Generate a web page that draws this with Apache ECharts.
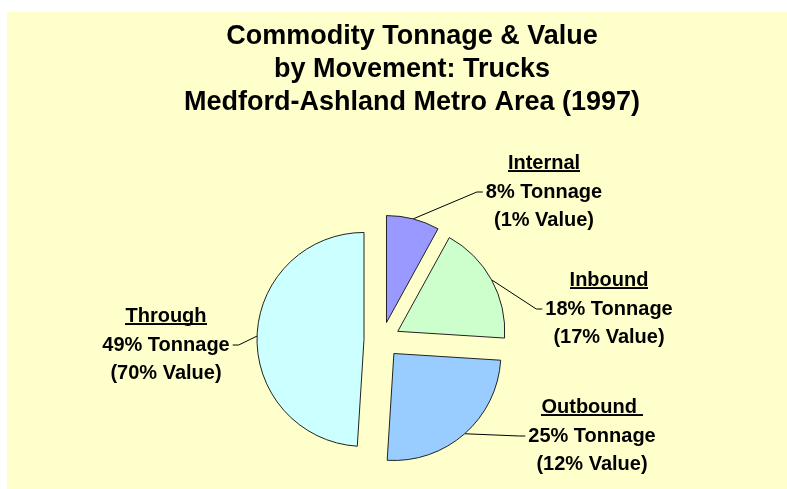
<!DOCTYPE html>
<html>
<head>
<meta charset="utf-8">
<script src="https://cdn.jsdelivr.net/npm/echarts@6/dist/echarts.min.js"></script>
<style>
  html, body { margin: 0; padding: 0; background: #ffffff; }
  #chart { width: 787px; height: 489px; }
</style>
</head>
<body>
<div id="chart"></div>
<script>
// Truck freight by movement type, Medford-Ashland metro area, 1997
const movements = ['Internal', 'Inbound', 'Outbound ', 'Through'];
const tonnageShare = [8, 18, 25, 49];   // % of tonnage (slice sizes)
const valueShare = [1, 17, 12, 70];     // % of value (shown in labels)
const sliceColors = ['#9999FF', '#CCFFCC', '#99CCFF', '#CCFFFF'];

// Pie geometry
const PIE_CENTER = [382, 340];
const PIE_RADIUS = 107;
const EXPLODE = 18;

// Where each three-line label block is centred, and on which side its leader line attaches
const labelAnchors = [
  [544, 192, 'left'],
  [609, 309, 'left'],
  [592, 436, 'left'],
  [166, 345, 'right']
];

const FONT = 'Liberation Sans';
const LABEL_SIZE = 20;
const LINE_H = 28.5;

// Underline for the movement names, used as a stretched background image of the rich token
function makeUnderline() {
  const c = document.createElement('canvas');
  c.width = 8;
  c.height = LINE_H * 2;
  const g = c.getContext('2d');
  g.fillStyle = '#000000';
  g.fillRect(0, 48, 8, 4);
  return c;
}
const underline = makeUnderline();

// Width of a label line in the label font, so the leader can end next to it
const measureCtx = document.createElement('canvas').getContext('2d');
measureCtx.font = 'bold ' + LABEL_SIZE + 'px "' + FONT + '"';
function textWidth(s) { return measureCtx.measureText(s).width; }

function tonnageLine(i) { return tonnageShare[i] + '% Tonnage'; }
function labelText(i) {
  return '{name|' + movements[i] + '}\n{val|' + tonnageLine(i) + '}\n{val|(' + valueShare[i] + '% Value)}';
}

function placeLabel(p) {
  const i = p.dataIndex;
  const a = labelAnchors[i];
  const half = textWidth(tonnageLine(i)) / 2;
  const edge = a[2] === 'left' ? a[0] - half - 3 : a[0] + half + 3;
  const knee = a[2] === 'left' ? edge - 6 : edge + 6;
  const start = p.labelLinePoints ? p.labelLinePoints[0] : [knee, a[1]];
  return {
    x: a[0],
    y: a[1],
    align: 'center',
    verticalAlign: 'middle',
    labelLinePoints: [start, [knee, a[1]], [edge, a[1]]]
  };
}

// Each slice is drawn by its own pie series, pulled out from the common centre
// along the bisector of that slice; the other slices of that series stay invisible.
const total = tonnageShare.reduce(function (s, v) { return s + v; }, 0);
let before = 0;
const pieSeries = movements.map(function (name, k) {
  const mid = (before + tonnageShare[k] / 2) / total * Math.PI * 2;
  before += tonnageShare[k];
  const cx = PIE_CENTER[0] + EXPLODE * Math.sin(mid);
  const cy = PIE_CENTER[1] - EXPLODE * Math.cos(mid);
  return {
    type: 'pie',
    name: name,
    center: [cx, cy],
    radius: PIE_RADIUS,
    startAngle: 90,
    clockwise: true,
    avoidLabelOverlap: false,
    emphasis: { disabled: true },
    label: {
      position: 'outside',
      fontFamily: FONT,
      fontWeight: 'bold',
      fontSize: LABEL_SIZE,
      color: '#000000',
      align: 'center',
      formatter: function (p) { return labelText(p.dataIndex); },
      rich: {
        name: {
          fontFamily: FONT, fontWeight: 'bold', fontSize: LABEL_SIZE, lineHeight: LINE_H,
          color: '#000000', backgroundColor: { image: underline }
        },
        val: {
          fontFamily: FONT, fontWeight: 'bold', fontSize: LABEL_SIZE, lineHeight: LINE_H,
          color: '#000000'
        }
      }
    },
    labelLine: { lineStyle: { color: '#000000', width: 1 } },
    labelLayout: placeLabel,
    data: movements.map(function (n, i) {
      const own = i === k;
      return {
        name: n,
        value: tonnageShare[i],
        itemStyle: own
          ? { color: sliceColors[i], borderColor: '#222222', borderWidth: 1 }
          : { color: 'rgba(0,0,0,0)', borderWidth: 0 },
        label: { show: own },
        labelLine: { show: own }
      };
    })
  };
});

const chart = echarts.init(document.getElementById('chart'), null, { renderer: 'canvas' });

chart.setOption({
  animation: false,
  backgroundColor: '#ffffff',
  graphic: [{
    type: 'rect',
    silent: true,
    z: -10,
    shape: { x: 7, y: 12, width: 780, height: 477 },
    style: { fill: '#FFFFCC' }
  }],
  title: {
    text: 'Commodity Tonnage & Value\nby Movement: Trucks\nMedford-Ashland Metro Area (1997)',
    left: 407,
    top: 15,
    textAlign: 'center',
    textStyle: {
      fontFamily: FONT,
      fontWeight: 'bold',
      fontSize: 27,
      lineHeight: 33,
      color: '#000000'
    }
  },
  series: pieSeries
});
</script>
</body>
</html>
